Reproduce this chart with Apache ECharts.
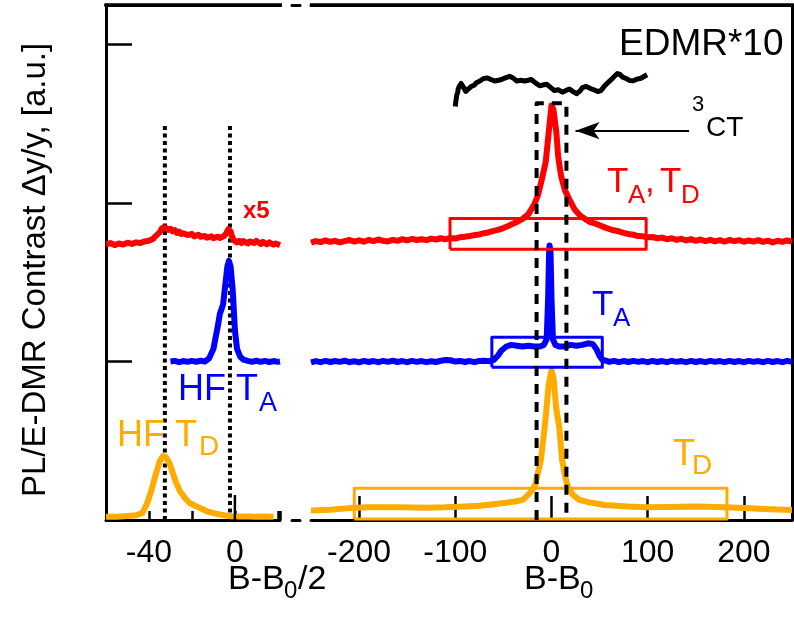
<!DOCTYPE html>
<html><head><meta charset="utf-8">
<script src="https://cdn.jsdelivr.net/npm/echarts@6/dist/echarts.min.js"></script>
<style>html,body{margin:0;padding:0;background:#fff;overflow:hidden}#c{width:794px;height:625px}</style>
</head><body><div id="c"></div>
<script>
// ---------- data (x, y) ----------
var redLeft = [[-60,1.74],[-58,1.748],[-56,1.735],[-54,1.745],[-52,1.738],[-50,1.75],[-48,1.742],[-46,1.752],[-44,1.748],[-42,1.758],[-40,1.762],[-38,1.775],[-37,1.79],[-35,1.815],[-34,1.84],[-33,1.848],[-32,1.842],[-31,1.83],[-30,1.838],[-29,1.822],[-28,1.83],[-27,1.812],[-26,1.82],[-25,1.805],[-24,1.81],[-22,1.798],[-20,1.805],[-19,1.79],[-17,1.8],[-16,1.788],[-14,1.792],[-13,1.782],[-11,1.79],[-10,1.778],[-8,1.788],[-7,1.78],[-5,1.792],[-4,1.81],[-3,1.835],[-2,1.82],[-1.5,1.795],[-0.5,1.765],[1,1.752],[2,1.762],[3,1.748],[4,1.76],[6,1.745],[7,1.758],[9,1.748],[10,1.762],[12,1.742],[13,1.755],[15,1.74],[16,1.752],[18,1.738],[19,1.745],[21,1.735]];
var blueLeft = [[-30,1.0],[-28,1.004],[-26,0.996],[-24,1.003],[-22,0.998],[-20,1.004],[-18,0.999],[-16,1.005],[-14,1.0],[-12,1.02],[-10,1.08],[-8,1.22],[-7,1.3],[-5.5,1.36],[-4.5,1.48],[-3.5,1.6],[-2.8,1.635],[-2,1.6],[-1,1.45],[0,1.2],[1,1.08],[2.5,1.03],[4,1.012],[6,1.004],[8,0.998],[10,1.005],[12,0.998],[14,1.004],[16,0.997],[18,1.003],[20,0.998],[21,1.0]];
var orangeLeft = [[-60,0.02],[-55,0.02],[-50,0.025],[-46,0.03],[-43,0.045],[-41,0.1],[-39,0.18],[-37,0.28],[-35,0.37],[-33.5,0.403],[-32,0.395],[-30.5,0.36],[-29,0.3],[-27.5,0.24],[-25.5,0.18],[-23,0.135],[-21,0.107],[-17,0.08],[-13,0.055],[-9,0.04],[-5,0.03],[-2,0.024],[2,0.022],[6,0.022],[10,0.02],[14,0.022],[18,0.02]];
var hfDotX = [-32.6, -2.3];
var hfDotTop = 2.5;

var redRight = [[-250,1.75],[-245,1.76],[-240,1.754],[-235,1.764],[-230,1.755],[-225,1.762],[-220,1.752],[-215,1.76],[-210,1.767],[-205,1.757],[-200,1.765],[-195,1.756],[-190,1.767],[-185,1.76],[-180,1.77],[-175,1.762],[-170,1.758],[-165,1.768],[-160,1.762],[-155,1.772],[-150,1.765],[-145,1.774],[-140,1.767],[-135,1.772],[-130,1.766],[-125,1.776],[-120,1.77],[-115,1.778],[-110,1.772],[-105,1.78],[-100,1.776],[-95,1.785],[-90,1.788],[-85,1.792],[-80,1.798],[-75,1.802],[-70,1.81],[-65,1.816],[-60,1.825],[-55,1.832],[-50,1.842],[-45,1.855],[-40,1.87],[-35,1.884],[-30,1.9],[-24,1.93],[-18,1.99],[-14,2.05],[-10,2.15],[-6,2.26],[-3,2.44],[0,2.615],[2,2.59],[5,2.45],[7,2.29],[10,2.17],[14,2.08],[18,2.03],[24,1.96],[30,1.92],[35,1.9],[40,1.88],[45,1.872],[50,1.86],[56,1.845],[63,1.83],[70,1.822],[75,1.812],[80,1.805],[85,1.8],[90,1.792],[95,1.79],[100,1.784],[105,1.786],[110,1.778],[115,1.782],[120,1.772],[125,1.778],[130,1.768],[135,1.775],[140,1.764],[145,1.772],[150,1.762],[155,1.77],[160,1.76],[165,1.768],[170,1.758],[175,1.766],[180,1.757],[185,1.767],[190,1.76],[195,1.766],[200,1.756],[205,1.764],[210,1.757],[215,1.766],[220,1.755],[225,1.763],[230,1.752],[235,1.762],[240,1.755],[245,1.764],[250,1.757]];
var blueRight = [[-250,0.995],[-245,1.003],[-240,0.996],[-235,1.004],[-230,0.997],[-225,1.003],[-220,0.998],[-215,1.005],[-210,0.996],[-205,1.002],[-200,0.995],[-195,1.004],[-190,0.997],[-185,1.003],[-180,0.996],[-175,1.004],[-170,0.998],[-165,1.005],[-160,0.997],[-155,1.003],[-150,0.996],[-145,1.004],[-140,0.998],[-135,1.003],[-130,0.996],[-125,1.002],[-120,0.997],[-115,1.005],[-110,1.01],[-105,1.008],[-100,1.0],[-95,1.004],[-90,0.997],[-85,1.003],[-80,0.996],[-75,1.004],[-70,1.005],[-65,1.002],[-60,1.01],[-56,1.035],[-52,1.07],[-47,1.095],[-42,1.105],[-36,1.1],[-30,1.095],[-24,1.1],[-18,1.095],[-12,1.095],[-8,1.105],[-5,1.14],[-3.5,1.4],[-2.5,1.69],[-2,1.733],[-1,1.69],[0,1.4],[1.5,1.14],[4,1.105],[8,1.095],[14,1.095],[20,1.105],[26,1.1],[32,1.105],[38,1.115],[43,1.11],[47,1.075],[50,1.035],[53,1.01],[57,1.005],[60,0.998],[65,1.004],[70,0.996],[75,1.003],[80,0.997],[85,1.004],[90,0.998],[95,1.003],[100,0.996],[105,1.004],[110,0.997],[115,1.003],[120,0.996],[125,1.004],[130,0.998],[135,1.003],[140,0.996],[145,1.004],[150,0.997],[155,1.003],[160,0.996],[165,1.004],[170,0.998],[175,1.003],[180,0.996],[185,1.004],[190,0.997],[195,1.003],[200,0.996],[205,1.004],[210,0.998],[215,1.003],[220,0.996],[225,1.004],[230,0.997],[235,1.003],[240,0.996],[245,1.004],[250,0.998]];
var orangeRight = [[-250,0.06],[-230,0.065],[-210,0.075],[-190,0.08],[-160,0.08],[-130,0.078],[-110,0.08],[-90,0.085],[-75,0.09],[-60,0.1],[-45,0.11],[-35,0.12],[-30,0.127],[-24,0.16],[-20,0.19],[-17,0.22],[-14,0.3],[-11,0.38],[-7,0.59],[-3,0.85],[0,0.945],[2,0.9],[5,0.7],[8,0.59],[11,0.38],[14,0.28],[17,0.21],[22,0.16],[29,0.127],[40,0.11],[55,0.095],[80,0.085],[100,0.08],[120,0.082],[150,0.085],[180,0.08],[200,0.075],[220,0.07],[250,0.063]];
var edmr = [[-100,2.61],[-99.5,2.64],[-98.5,2.68],[-97.5,2.7],[-97,2.72],[-96,2.735],[-95,2.745],[-94,2.755],[-93,2.75],[-91.5,2.73],[-90,2.72],[-89,2.705],[-88,2.71],[-86.5,2.72],[-85,2.725],[-83.5,2.735],[-82,2.73],[-80,2.745],[-78,2.76],[-76,2.755],[-74.5,2.77],[-73,2.778],[-71,2.785],[-69,2.78],[-67,2.79],[-65,2.786],[-63,2.78],[-61,2.772],[-59,2.77],[-57,2.778],[-55,2.775],[-53.5,2.784],[-52,2.78],[-50,2.788],[-48,2.79],[-46,2.796],[-43.5,2.8],[-41.5,2.795],[-40,2.79],[-38,2.78],[-36,2.77],[-34,2.778],[-32,2.775],[-30,2.766],[-28,2.77],[-26,2.778],[-24,2.775],[-22.5,2.784],[-21,2.78],[-19,2.768],[-17,2.76],[-15,2.752],[-12.4,2.74],[-10.5,2.748],[-9,2.745],[-7,2.755],[-5,2.75],[-3,2.738],[-1,2.73],[1,2.72],[3,2.71],[5,2.718],[7,2.715],[9,2.705],[11.4,2.7],[13,2.708],[15,2.71],[17,2.722],[18.6,2.72],[20.5,2.712],[22,2.705],[24,2.696],[26,2.69],[28,2.7],[30,2.71],[32,2.728],[34,2.74],[36,2.736],[38,2.73],[40,2.724],[41.4,2.72],[44,2.715],[46,2.71],[48,2.704],[49.7,2.7],[51.5,2.71],[53,2.72],[55,2.738],[57,2.75],[59,2.762],[61,2.77],[62.5,2.782],[64,2.79],[65.5,2.8],[67,2.81],[68.5,2.818],[69.4,2.82],[71,2.812],[72,2.805],[74,2.795],[75.6,2.79],[77.5,2.786],[79,2.78],[81,2.774],[82.8,2.77],[85,2.772],[87,2.775],[89,2.782],[91,2.78],[93,2.788],[95,2.795],[97,2.802],[99.4,2.81]];

var redBox = [[-105.5,1.708],[98.4,1.708],[98.4,1.903],[-105.5,1.903],[-105.5,1.708]];
var blueBox = [[-62,0.964],[52.8,0.964],[52.8,1.153],[-62,1.153],[-62,0.964]];
var orangeBox = [[-205,0.006],[182.4,0.006],[182.4,0.2],[-205,0.2],[-205,0.006]];
var ctBox = [[-15.5,0],[-15.5,2.63],[15.5,2.63],[15.5,0]];
var arrowFrom = [143, 2.457];
var arrowTo = [25, 2.457];

var yTop = 3.25;
var leftRange = [-60, 21];
var leftLabelValues = [-40, 0];
var rightRange = [-250, 250];
var rightTickRange = [-200, 200];

// ---------- layout ----------
var F = "'Liberation Sans', Arial, Helvetica, sans-serif";
var RED = '#ff0000', BLUE = '#0000ff', ORANGE = '#ffab00';
var gTop = 5, gH = 515;
var gL = {left: 106, width: 174};
var gR = {left: 311, width: 481};
var pxPerUnitR = gR.width / (rightRange[1] - rightRange[0]);
var gT = {left: gR.left + (rightTickRange[0] - rightRange[0]) * pxPerUnitR,
          width: (rightTickRange[1] - rightTickRange[0]) * pxPerUnitR};

var chart = echarts.init(document.getElementById('c'), null, {renderer: 'canvas'});

function gridOf(g) {
  return {left: g.left, top: gTop, width: g.width, height: gH, containLabel: false};
}
function frameX(grid, pos) {
  return {gridIndex: grid, type: 'value', position: pos, min: 0, max: 1,
    axisLine: {show: true, onZero: false, lineStyle: {color: '#000', width: 3}},
    axisTick: {show: false}, axisLabel: {show: false}, splitLine: {show: false}};
}
function line(data, color, width, xi, yi, dash) {
  return {type: 'line', data: data, xAxisIndex: xi, yAxisIndex: yi, showSymbol: false, symbol: 'none',
    animation: false, silent: true, clip: false,
    lineStyle: {color: color, width: width, type: dash || 'solid', cap: 'butt', join: 'round'}};
}
function txt(text, x, y, size, color, bold) {
  return {type: 'text', x: x, y: y, z: 100, silent: true,
    style: {text: text, font: (bold ? 'bold ' : '') + size + 'px ' + F, fill: color,
      textAlign: 'left', textVerticalAlign: 'middle'}};
}
function bar(x1, x2, y) {
  return {type: 'rect', silent: true, shape: {x: x1, y: y - 1.5, width: x2 - x1, height: 3},
    style: {fill: '#000'}};
}

var yBase = {type: 'value', min: 0, max: yTop, interval: 1, splitLine: {show: false}};

var option = {
  animation: false,
  backgroundColor: '#fff',
  grid: [gridOf(gL), gridOf(gR), gridOf({left: 292, width: 8}), gridOf(gT)],
  xAxis: [
    {gridIndex: 0, type: 'value', position: 'bottom', min: leftRange[0], max: leftRange[1], interval: 20,
      axisLine: {show: true, onZero: false, lineStyle: {color: '#000', width: 3}},
      axisTick: {show: true, inside: true, length: 9, lineStyle: {color: '#000', width: 2.5}},
      axisLabel: {show: true, margin: 17, color: '#000', fontSize: 32, fontFamily: F,
        formatter: function (v) { return leftLabelValues.indexOf(v) >= 0 ? String(v) : ''; }},
      splitLine: {show: false}},
    {gridIndex: 1, type: 'value', position: 'bottom', min: rightRange[0], max: rightRange[1],
      axisLine: {show: true, onZero: false, lineStyle: {color: '#000', width: 3}},
      axisTick: {show: false}, axisLabel: {show: false}, splitLine: {show: false}},
    frameX(2, 'bottom'),
    frameX(2, 'top'),
    {gridIndex: 3, type: 'value', position: 'bottom', min: rightTickRange[0], max: rightTickRange[1], interval: 100,
      axisLine: {show: false, onZero: false},
      axisTick: {show: true, inside: true, length: 24, lineStyle: {color: '#000', width: 2.5}},
      axisLabel: {show: true, margin: 17, color: '#000', fontSize: 32, fontFamily: F},
      splitLine: {show: false}},
    frameX(0, 'top'),
    frameX(1, 'top')
  ],
  yAxis: [
    Object.assign({gridIndex: 0, position: 'left',
      axisLine: {show: true, onZero: false, lineStyle: {color: '#000', width: 3}},
      axisTick: {show: true, inside: true, length: 26, lineStyle: {color: '#000', width: 2.5}},
      axisLabel: {show: false}}, yBase),
    Object.assign({gridIndex: 1, position: 'right',
      axisLine: {show: true, onZero: false, lineStyle: {color: '#000', width: 3}},
      axisTick: {show: false}, axisLabel: {show: false}}, yBase),
    Object.assign({gridIndex: 2, show: false}, yBase),
    Object.assign({gridIndex: 3, show: false}, yBase)
  ],
  series: [
    line([[hfDotX[0], 0], [hfDotX[0], hfDotTop]], '#000', 4, 0, 0, [4, 3.5]),
    line([[hfDotX[1], 0], [hfDotX[1], hfDotTop]], '#000', 4, 0, 0, [4, 3.5]),
    line(redLeft, RED, 6, 0, 0),
    line(blueLeft, BLUE, 6, 0, 0),
    line(orangeLeft, ORANGE, 6, 0, 0),
    line(redRight, RED, 6, 1, 1),
    line(blueRight, BLUE, 6, 1, 1),
    line(orangeRight, ORANGE, 6, 1, 1),
    line(edmr, '#000', 5, 1, 1),
    line(redBox, RED, 3, 1, 1),
    line(blueBox, BLUE, 3, 1, 1),
    line(orangeBox, ORANGE, 3, 1, 1),
    Object.assign(line(ctBox, '#000', 4, 1, 1, [10, 8]), {
      markLine: {silent: true, animation: false, symbol: ['none', 'arrow'], symbolSize: [13, 24],
        label: {show: false}, lineStyle: {color: '#000', width: 2, type: 'solid'},
        data: [[{coord: arrowFrom}, {coord: arrowTo}]]}
    })
  ],
  graphic: [
    {type: 'text', x: 36, y: 270, rotation: Math.PI / 2, z: 100, silent: true,
      style: {text: 'PL/E-DMR Contrast \u0394y/y, [a.u.]', font: '33px ' + F, fill: '#000',
        textAlign: 'center', textVerticalAlign: 'middle'}},
    txt('B-B', 228, 580, 34, '#000'),
    txt('0', 284, 591, 24, '#000'),
    txt('/2', 298, 580, 34, '#000'),
    txt('B-B', 524, 580, 34, '#000'),
    txt('0', 580, 591, 24, '#000'),
    txt('EDMR*10', 619, 45, 37, '#000'),
    txt('3', 692, 105, 22, '#000'),
    txt('CT', 706, 128, 28, '#000'),
    txt('T', 607, 182, 35, RED),
    txt('A', 628, 196, 26, RED),
    txt(',', 645, 182, 35, RED),
    txt('T', 660, 182, 35, RED),
    txt('D', 681, 196, 26, RED),
    txt('T', 592, 305, 35, BLUE),
    txt('A', 613, 319, 26, BLUE),
    txt('T', 673, 455, 36, ORANGE),
    txt('D', 692, 466, 28, ORANGE),
    txt('HF T', 178, 390, 36, BLUE),
    txt('A', 259, 404, 27, BLUE),
    txt('HF T', 117, 436, 36, ORANGE),
    txt('D', 199, 447, 28, ORANGE),
    txt('x5', 243, 211, 24, RED, true),
    // top frame edges of the two panels (layout, not data)
    bar(gL.left - 1.5, gL.left + gL.width + 2, gTop),
    bar(gR.left - 1, gR.left + gR.width + 1.5, gTop)
  ]
};
chart.setOption(option);

// fallback: draw frame edges and the special 0 ticks straight into the renderer
try {
  var zr = chart.getZr();
  var G = echarts.graphic;
  var addLine = function (x1, y1, x2, y2, w) {
    zr.add(new G.Line({shape: {x1: x1, y1: y1, x2: x2, y2: y2},
      style: {stroke: '#000', lineWidth: w}, z: 1000, zlevel: 0, silent: true}));
  };
  addLine(gL.left - 1.5, gTop, gL.left + gL.width + 2, gTop, 3);
  addLine(gR.left - 1, gTop, gR.left + gR.width + 1.5, gTop, 3);
  var l0 = chart.convertToPixel({xAxisIndex: 0, yAxisIndex: 0}, [0, 0]);
  addLine(l0[0], l0[1], l0[0], l0[1] - 25, 2.5);
} catch (e) {}
</script>
</body></html>
